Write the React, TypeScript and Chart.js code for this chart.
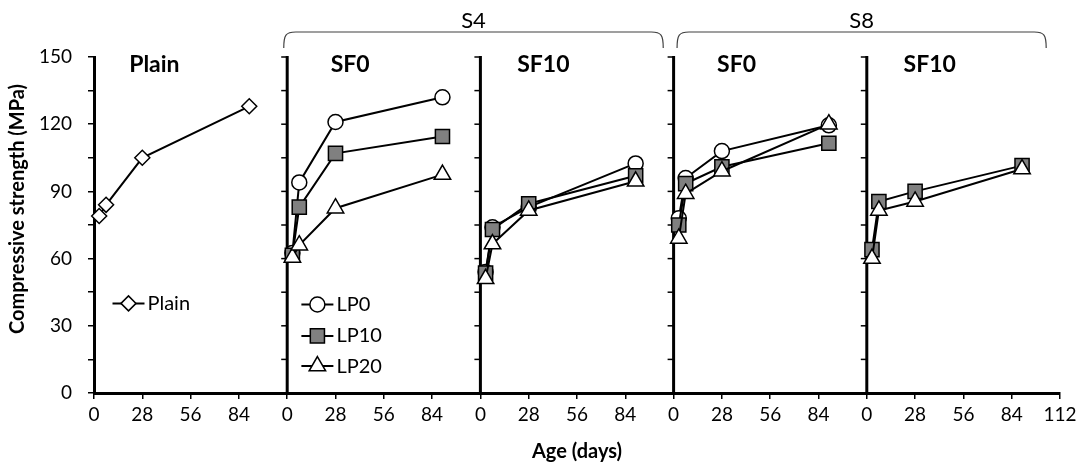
import React, { useEffect, useRef } from 'react';
import { Chart, registerables } from 'chart.js';

Chart.register(...registerables);

// ---------- data ----------
const ages = [3, 7, 28, 90];
const panelSpan = 112;
const panelTitles = ['Plain', 'SF0', 'SF10', 'SF0', 'SF10'];
const groupLabels = ['S4', 'S8'];
const xTickStep = 28;
const yTickStep = 15;
const yLabelStep = 30;
const yMax = 150;

const plain = [79, 84, 105, 128];
const s4sf0LP0 = [62.5, 94, 121, 132];
const s4sf0LP10 = [61.5, 83, 107, 114.5];
const s4sf0LP20 = [60.5, 66, 82.5, 97.5];
const s4sf10LP0 = [54, 74, 83, 102.5];
const s4sf10LP10 = [53.5, 73, 84.5, 97];
const s4sf10LP20 = [51, 66.5, 81.5, 94.5];
const s8sf0LP0 = [78, 96, 108, 119.5];
const s8sf0LP10 = [75, 93.5, 101, 111.5];
const s8sf0LP20 = [69, 89, 99, 120];
const s8sf10LP10 = [64, 85.5, 90, 101.5];
const s8sf10LP20 = [60, 81.5, 85.5, 100];

const FONT = 'Lato, "Noto Sans", sans-serif';

type Mix = 'Plain' | 'LP0' | 'LP10' | 'LP20';
const markerStyle: Record<Mix, { style: string; r: number; fill: string; order: number }> = {
  Plain: { style: 'rectRot', r: 7.5, fill: '#ffffff', order: 1 },
  LP0: { style: 'circle', r: 7.5, fill: '#ffffff', order: 3 },
  LP10: { style: 'rect', r: 10, fill: '#808080', order: 2 },
  LP20: { style: 'triangle', r: 9.5, fill: '#ffffff', order: 1 },
};

const seriesList: { mix: Mix; panel: number; values: number[] }[] = [
  { mix: 'Plain', panel: 0, values: plain },
  { mix: 'LP0', panel: 1, values: s4sf0LP0 },
  { mix: 'LP10', panel: 1, values: s4sf0LP10 },
  { mix: 'LP20', panel: 1, values: s4sf0LP20 },
  { mix: 'LP0', panel: 2, values: s4sf10LP0 },
  { mix: 'LP10', panel: 2, values: s4sf10LP10 },
  { mix: 'LP20', panel: 2, values: s4sf10LP20 },
  { mix: 'LP0', panel: 3, values: s8sf0LP0 },
  { mix: 'LP10', panel: 3, values: s8sf0LP10 },
  { mix: 'LP20', panel: 3, values: s8sf0LP20 },
  { mix: 'LP10', panel: 4, values: s8sf10LP10 },
  { mix: 'LP20', panel: 4, values: s8sf10LP20 },
];

function drawMarker(ctx: CanvasRenderingContext2D, mix: Mix, x: number, y: number) {
  const m = markerStyle[mix];
  const r = m.r;
  ctx.beginPath();
  if (m.style === 'circle') {
    ctx.arc(x, y, r, 0, Math.PI * 2);
  } else if (m.style === 'rect') {
    const s = r * Math.SQRT1_2;
    ctx.rect(x - s, y - s, 2 * s, 2 * s);
  } else if (m.style === 'rectRot') {
    ctx.moveTo(x - r, y);
    ctx.lineTo(x, y - r);
    ctx.lineTo(x + r, y);
    ctx.lineTo(x, y + r);
    ctx.closePath();
  } else {
    for (let k = 0; k < 3; k++) {
      const a = (k * 2 * Math.PI) / 3;
      const px = x + Math.sin(a) * r;
      const py = y - Math.cos(a) * r;
      if (k === 0) ctx.moveTo(px, py);
      else ctx.lineTo(px, py);
    }
    ctx.closePath();
  }
  ctx.fillStyle = m.fill;
  ctx.fill();
  ctx.lineWidth = 1.5;
  ctx.strokeStyle = '#000';
  ctx.stroke();
}

const decorPlugin = {
  id: 'decor',
  beforeDatasetsDraw(chart: any) {
    const ctx: CanvasRenderingContext2D = chart.ctx;
    const xs = chart.scales.x;
    const ys = chart.scales.y;
    const top = ys.getPixelForValue(yMax);
    const bottom = ys.getPixelForValue(0);
    ctx.save();
    // panel separators (repeat of the y axis)
    for (let p = 1; p < panelTitles.length; p++) {
      const px = xs.getPixelForValue(p * panelSpan);
      ctx.strokeStyle = '#000';
      ctx.lineWidth = 3;
      ctx.beginPath();
      ctx.moveTo(px, top - 1);
      ctx.lineTo(px, bottom);
      ctx.stroke();
      ctx.lineWidth = 1.5;
      for (let v = 0; v <= yMax; v += yTickStep) {
        const py = ys.getPixelForValue(v);
        ctx.beginPath();
        ctx.moveTo(px - 6, py);
        ctx.lineTo(px, py);
        ctx.stroke();
      }
    }
    ctx.restore();
  },
  afterDraw(chart: any) {
    const ctx: CanvasRenderingContext2D = chart.ctx;
    const xs = chart.scales.x;
    const ys = chart.scales.y;
    ctx.save();
    // panel titles
    ctx.fillStyle = '#000';
    ctx.font = `bold 23px ${FONT}`;
    ctx.textAlign = 'center';
    ctx.textBaseline = 'middle';
    panelTitles.forEach((t, p) => {
      const off = p === 0 ? 35 : 36.5;
      ctx.fillText(t, xs.getPixelForValue(p * panelSpan + off), 65);
    });
    // group braces
    const spans = [
      [110, 330],
      [338, 552],
    ];
    spans.forEach(([a, b], i) => {
      const x1 = xs.getPixelForValue(a);
      const x2 = xs.getPixelForValue(b);
      const yTop = 32;
      const yEnd = 48;
      ctx.strokeStyle = '#404040';
      ctx.lineWidth = 1.2;
      ctx.beginPath();
      ctx.moveTo(x1, yEnd);
      ctx.bezierCurveTo(x1, yTop + 3, x1 + 2, yTop, x1 + 12, yTop);
      ctx.lineTo(x2 - 12, yTop);
      ctx.bezierCurveTo(x2 - 2, yTop, x2, yTop + 3, x2, yEnd);
      ctx.stroke();
      ctx.font = `22px ${FONT}`;
      ctx.fillStyle = '#000';
      ctx.textAlign = 'center';
      ctx.textBaseline = 'middle';
      ctx.fillText(groupLabels[i], (x1 + x2) / 2, 21);
    });
    // legends
    const legendRows: { mix: Mix; panel: number; label: string; y: number }[] = [
      { mix: 'Plain', panel: 0, label: 'Plain', y: 40 },
      { mix: 'LP0', panel: 1, label: 'LP0', y: 39.5 },
      { mix: 'LP10', panel: 1, label: 'LP10', y: 25.5 },
      { mix: 'LP20', panel: 1, label: 'LP20', y: 12 },
    ];
    legendRows.forEach((row) => {
      const cx = row.panel === 0 ? xs.getPixelForValue(20) : xs.getPixelForValue(panelSpan + 17.5);
      const cy = ys.getPixelForValue(row.y);
      ctx.strokeStyle = '#000';
      ctx.lineWidth = 2;
      ctx.beginPath();
      ctx.moveTo(cx - 16, cy);
      ctx.lineTo(cx + 16, cy);
      ctx.stroke();
      drawMarker(ctx, row.mix, cx, cy);
      ctx.font = `20px ${FONT}`;
      ctx.fillStyle = '#000';
      ctx.textAlign = 'left';
      ctx.textBaseline = 'middle';
      ctx.fillText(row.label, cx + 19, cy);
    });
    // y axis title
    ctx.translate(18, 209);
    ctx.rotate(-Math.PI / 2);
    ctx.font = `bold 20px ${FONT}`;
    ctx.textAlign = 'center';
    ctx.textBaseline = 'middle';
    ctx.fillStyle = '#000';
    ctx.fillText('Compressive strength (MPa)', 0, 0);
    ctx.restore();
  },
};

export default function App() {
  const ref = useRef<HTMLCanvasElement | null>(null);

  useEffect(() => {
    if (!ref.current) return;
    const datasets = seriesList.map((s) => {
      const m = markerStyle[s.mix];
      return {
        label: s.mix,
        data: ages.map((a, i) => ({ x: s.panel * panelSpan + a, y: s.values[i] })),
        borderColor: '#000',
        borderWidth: 2,
        pointStyle: m.style,
        pointRadius: m.r,
        pointHoverRadius: m.r,
        pointBackgroundColor: m.fill,
        pointBorderColor: '#000',
        pointBorderWidth: 1.5,
        backgroundColor: m.fill,
        fill: false,
        tension: 0,
        clip: false as any,
        order: m.order,
      };
    });

    const chart = new Chart(ref.current, {
      type: 'line',
      data: { datasets: datasets as any },
      plugins: [decorPlugin],
      options: {
        animation: false,
        responsive: false,
        maintainAspectRatio: false,
        layout: { padding: { top: 57, right: 21, left: 0, bottom: 0 } },
        plugins: { legend: { display: false }, tooltip: { enabled: false } },
        scales: {
          x: {
            type: 'linear',
            min: 0,
            max: panelSpan * panelTitles.length,
            ticks: {
              stepSize: xTickStep,
              autoSkip: false,
              maxRotation: 0,
              color: '#000',
              font: { family: FONT, size: 19 },
              padding: 4,
              callback: (v: any) => {
                const n = Number(v);
                if (n === panelSpan * panelTitles.length) return String(panelSpan);
                return String(n % panelSpan);
              },
            },
            grid: { drawOnChartArea: false, drawTicks: true, tickLength: 6, color: '#000', lineWidth: 1.5 },
            border: { display: true, color: '#000', width: 3 },
            title: {
              display: true,
              text: 'Age (days)',
              color: '#000',
              font: { family: FONT, size: 20, weight: 'bold' },
              padding: { top: 0, bottom: 2 },
            },
            afterFit: (s: any) => {
              s.height = 73;
            },
          },
          y: {
            min: 0,
            max: yMax,
            ticks: {
              stepSize: yTickStep,
              color: '#000',
              font: { family: FONT, size: 19 },
              padding: 16,
              callback: (v: any) => (Number(v) % yLabelStep === 0 ? String(v) : ''),
            },
            grid: { drawOnChartArea: false, drawTicks: true, tickLength: 6, color: '#000', lineWidth: 1.5 },
            border: { display: true, color: '#000', width: 3 },
            afterFit: (s: any) => {
              s.width = 94;
            },
          },
        },
      } as any,
    });
    return () => chart.destroy();
  }, []);

  return (
    <div style={{ position: 'fixed', left: 0, top: 0, width: 1081, height: 466, background: '#fff' }}>
      <canvas ref={ref} width={1081} height={466} style={{ width: 1081, height: 466 }} />
    </div>
  );
}
